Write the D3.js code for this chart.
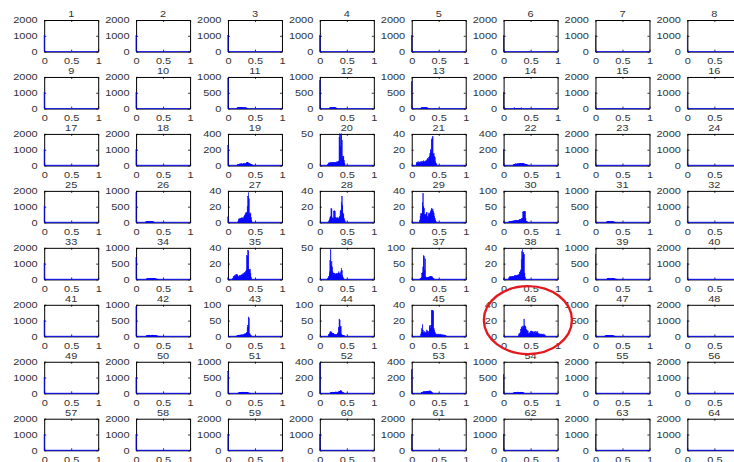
<!DOCTYPE html>
<html><head><meta charset="utf-8">
<script src="https://cdn.jsdelivr.net/npm/d3@7"></script>
<style>
html,body{margin:0;padding:0;background:#fff;overflow:hidden}
svg{display:block}
text{font-family:"Liberation Sans",Arial,Helvetica,sans-serif;fill:#333;
  transform-box:fill-box;transform-origin:center;transform:scaleY(0.82)}
</style></head><body>
<svg id="chart" width="734" height="462"></svg>
<script>
// ---------- data ----------
const panelTitles = ["1","2","3","4","5","6","7","8","9","10","11","12","13","14","15","16",
 "17","18","19","20","21","22","23","24","25","26","27","28","29","30","31","32",
 "33","34","35","36","37","38","39","40","41","42","43","44","45","46","47","48",
 "49","50","51","52","53","54","55","56","57","58","59","60","61","62","63","64"];
const yMax = [
 2000,2000,2000,2000,2000,2000,2000,2000,
 2000,2000,1000,1000,1000,2000,2000,2000,
 2000,2000,400,50,40,400,2000,2000,
 2000,1000,40,40,40,100,1000,2000,
 2000,1000,40,50,100,40,1000,2000,
 2000,1000,100,100,40,40,1000,2000,
 2000,2000,1000,400,400,1000,2000,2000,
 2000,2000,2000,2000,2000,2000,2000,2000];
// count in the bin at x = 0
const zeroBin = [
 1020,1020,1020,1020,1020,1020,1020,1020,
 1020,1020,950,900,850,1020,1020,1020,
 1020,1020,250,0,0,200,1020,1020,
 1020,950,7,0,0,2,900,1020,
 1020,700,2,0,0,1,800,1020,
 1020,950,0,0,0,0,900,1020,
 1020,1020,700,380,300,600,1020,1020,
 1020,1020,1020,1020,1020,1020,1020,1020];
const xTicks = [0, 0.5, 1];
const xTickLabels = ["0", "0.5", "1"];
const yTicks2000 = [0, 1000, 2000];
const yTicks1000 = [0, 500, 1000];
const yTicks400 = [0, 200, 400];
const yTicks100 = [0, 50, 100];
const yTicks50 = [0, 50];
const yTicks40 = [0, 20, 40];
const binWidth = 0.01;
// histogram counts (bin centres start at the given x, step 0.01)
const h11 = [0.17, [20,30,25,35,30,28,32,40,35,30,25,30,35,28,22,25,30,20,15,10]];
const h12 = [0.18, [15,25,30,35,30,40,35,30,28,35,30,25,20,15,10,8]];
const h13 = [0.17, [12,20,28,35,30,25,35,40,32,28,30,25,20,15,10]];
const h14 = [0.20, [50,5,3,4,3,2,4,3,2,3,5,2,3,50]];
const h19 = [0.18, [10,12,15,18,20,18,22,25,20,18,22,24,26,22,20,25,30,35,42,38,30,26,28,22,18,15,12,8,5,3]];
const h20 = [0.15, [2,3,4,4,5,4,5,4,5,5,4,5,4,5,5,4,5,6,5,6,7,45,52,30,48,52,40,12,15,14,8,3]];
const h21 = [0.09, [4,3,4,5,3,4,4,5,3,4,5,4,5,6,4,5,5,6,5,7,8,9,8,10,12,15,20,18,33,35,37,14,15,12,10,5,3,2]];
const h22 = [0.18, [8,12,15,18,20,22,18,20,24,22,20,25,28,26,24,22,26,30,28,25,22,20,18,15,12,10,8,5,3,2]];
const h26 = [0.18, [15,25,30,35,40,38,35,32,40,38,35,30,28,25,20,15,10,5]];
const h27 = [0.19, [2,4,5,4,5,5,6,5,5,6,5,8,9,10,12,13,12,20,33,38,30,12,10,12,6,2]];
const h28 = [0.17, [2,4,6,8,18,17,6,5,5,14,15,14,5,6,5,5,6,5,5,6,8,14,15,25,33,22,12,10,5,3,1]];
const h29 = [0.15, [3,8,11,12,10,25,37,20,18,10,9,10,12,13,8,7,10,12,10,12,14,16,18,15,17,14,12,8,5,3,1]];
const h30 = [0.10, [2,3,3,4,3,4,5,4,5,5,6,5,6,7,6,6,7,6,7,8,9,8,10,10,12,14,33,35,35,34,35,12,4,3,2]];
const h31 = [0.20, [10,20,25,30,35,40,38,35,30,32,35,38,30,25,20,15,10,5]];
const h34 = [0.19, [10,20,25,30,35,38,32,30,35,40,38,35,30,32,35,30,25,20,18,15,10,8,5]];
const h35 = [0.09, [1,3,4,4,5,4,6,6,6,5,4,3,4,5,4,5,6,5,7,6,8,7,9,8,10,12,30,29,37,36,13,12,13,8,3]];
const h36 = [0.15, [2,3,5,12,30,47,22,28,20,12,9,10,8,9,7,8,9,10,8,10,12,9,10,8,12,18,14,6,3,1]];
const h37 = [0.16, [3,4,6,18,22,40,75,72,30,65,8,5,6,5,7,8,6,8,9,10,10,9,8,5,3,2]];
const h38 = [0.10, [2,3,4,3,4,3,4,4,3,4,4,5,4,5,4,5,5,6,5,7,9,10,12,25,35,38,30,34,32,8,3]];
const h39 = [0.21, [10,20,25,30,35,40,36,32,35,38,40,35,30,28,25,20,15,10,8,5]];
const h42 = [0.19, [10,20,28,32,35,40,38,35,30,35,38,42,40,35,30,28,32,30,25,20,15,12,10,8,5,3]];
const h43 = [0.17, [2,3,3,4,3,4,5,4,5,5,4,6,5,7,8,7,9,10,12,30,35,62,58,10,8,3,2]];
const h44 = [0.16, [3,6,9,14,15,12,14,10,9,10,8,6,5,6,5,6,7,10,12,28,55,52,30,32,8,5,4,3,3,2,1]];
const h45 = [0.17, [3,10,5,15,8,5,4,6,5,4,5,8,7,5,4,6,13,14,10,14,33,33,33,32,10,8,5,4,3,2,3,2,2,3,2,2,3,2,2,2,1,2,1,2,1,1,1]];
const h46 = [0.28, [2,4,3,5,9,11,12,10,13,12,22,14,13,12,9,8,6,7,4,3,5,4,6,7,6,5,6,4,5,6,5,4,6,5,4,6,3,4,3,3,2,3,2,3,2,2,3,2,2,1]];
const h47 = [0.17, [8,15,22,28,32,35,38,35,30,32,35,38,40,35,30,25,20,15,10,8,5,3]];
const h51 = [0.19, [10,18,25,30,35,32,30,35,38,40,35,30,32,35,38,34,30,25,20,15,10,8,5,3,2]];
const h52 = [0.19, [5,8,10,12,14,15,12,10,12,14,16,18,15,14,16,18,20,22,25,30,35,28,20,15,10,6,3]];
const h53 = [0.18, [8,12,15,18,20,22,20,18,22,24,26,24,22,25,28,30,32,28,22,15,8,4]];
const h54 = [0.18, [10,18,25,30,35,32,30,35,40,38,35,32,30,35,38,35,30,25,20,15,10,5,3]];
const highlightPanel = 46;

// ---------- build ----------
const histByPanel = new Map([[11,h11],[12,h12],[13,h13],[14,h14],[19,h19],[20,h20],[21,h21],[22,h22],
 [26,h26],[27,h27],[28,h28],[29,h29],[30,h30],[31,h31],[34,h34],[35,h35],[36,h36],[37,h37],[38,h38],
 [39,h39],[42,h42],[43,h43],[44,h44],[45,h45],[46,h46],[47,h47],[51,h51],[52,h52],[53,h53],[54,h54]]);
const yTickMap = new Map([[2000,yTicks2000],[1000,yTicks1000],[400,yTicks400],[100,yTicks100],[50,yTicks50],[40,yTicks40]]);

const svg = d3.select("#chart");
const left0 = 44.2, colStep = 91.88, top0 = 20, rowStep = 56.96, pw = 54, ph = 31.6;
const FS = 11;
let highlight = null;

panelTitles.forEach((title, i) => {
  const col = i % 8, row = Math.floor(i / 8), id = i + 1;
  const g = svg.append("g").attr("transform", `translate(${left0 + col * colStep},${top0 + row * rowStep})`);
  const x = d3.scaleLinear().domain([0, 1]).range([0, pw]);
  const y = d3.scaleLinear().domain([0, yMax[i]]).range([ph, 0]);

  // bins
  const bins = [{x: 0, c: zeroBin[i]}];
  const h = histByPanel.get(id);
  if (h) h[1].forEach((c, k) => bins.push({x: +(h[0] + k * binWidth).toFixed(2), c}));

  g.append("clipPath").attr("id", "clip" + id).append("rect")
    .attr("x", -0.8).attr("y", -0.5).attr("width", pw + 0.8).attr("height", ph + 1.2);

  // axes (box)
  const yt = yTickMap.get(yMax[i]);
  const ax = g.append("g").attr("class", "axes");
  ax.append("g").call(d3.axisLeft(y).tickValues(yt).tickSize(-2).tickSizeOuter(0).tickPadding(6.5).tickFormat(d3.format("d")));
  ax.append("g").attr("transform", `translate(${pw},0)`).call(d3.axisRight(y).tickValues(yt).tickSize(-2).tickSizeOuter(0).tickFormat(""));
  ax.append("g").attr("transform", `translate(0,${ph})`).call(d3.axisBottom(x).tickValues(xTicks).tickSize(-2).tickSizeOuter(0).tickPadding(5.5).tickFormat((d, k) => xTickLabels[k]));
  ax.append("g").call(d3.axisTop(x).tickValues(xTicks).tickSize(-2).tickSizeOuter(0).tickFormat(""));
  ax.selectAll(".domain").attr("stroke", "#000").attr("stroke-width", 1);
  ax.selectAll(".tick line").attr("stroke", "#000").attr("stroke-width", 0.8);
  ax.selectAll("text").attr("font-size", FS).attr("fill", "#333").attr("font-family", null);

  // histogram
  const hg = g.append("g").attr("clip-path", `url(#clip${id})`);
  hg.append("path")
    .datum(xTicks)
    .attr("d", d3.line().x(d => x(d)).y(() => y(0)))
    .attr("stroke", "#0000ff").attr("stroke-opacity", 0.75).attr("stroke-width", 1.3).attr("fill", "none");
  hg.selectAll("rect.bar").data(bins.filter(b => b.c > 0)).join("rect").attr("class", "bar")
    .attr("x", d => x(d.x - binWidth / 2))
    .attr("width", x(binWidth) - x(0))
    .attr("y", d => y(d.c))
    .attr("height", d => y(0) - y(d.c))
    .attr("fill", "#0000ff").attr("stroke", "#0000ff").attr("stroke-width", 0.45);

  // title
  g.append("text").attr("x", pw / 2).attr("y", -2.3).attr("text-anchor", "middle")
    .attr("font-size", FS).attr("fill", "#333").text(title);

  if (id === highlightPanel) highlight = {g: g.attr("transform"), x, y};
});

// red ellipse annotation around the highlighted panel (drawn on top)
if (highlight) {
  svg.append("g").attr("transform", highlight.g).append("ellipse")
    .attr("cx", highlight.x(0.45)).attr("cy", ph / 2 - 0.5)
    .attr("rx", highlight.x(0.815) - highlight.x(0)).attr("ry", 34)
    .attr("fill", "none").attr("stroke", "#e3191e").attr("stroke-width", 2.4);
}
</script>
</body></html>
